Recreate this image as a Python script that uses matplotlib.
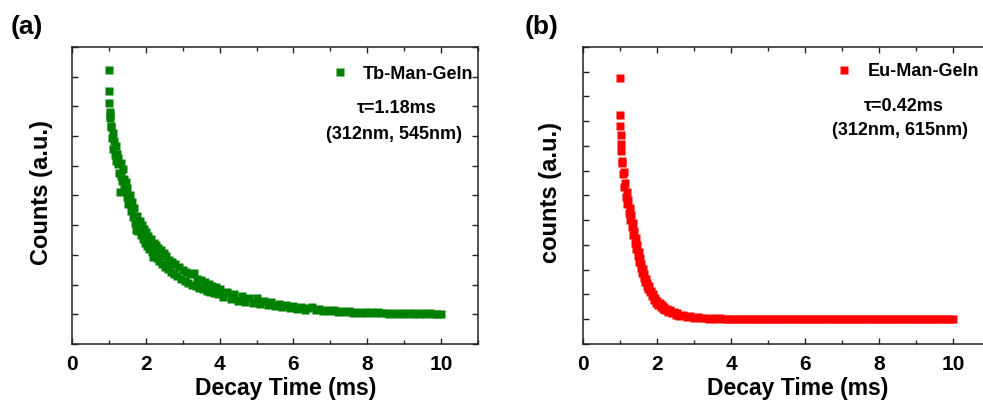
import matplotlib
matplotlib.use("Agg")
import matplotlib.pyplot as plt
from matplotlib.ticker import MultipleLocator, NullFormatter

plt.rcParams['font.family'] = ['Liberation Sans', 'DejaVu Sans']
plt.rcParams['font.weight'] = 'bold'

# ---- panel (a): Tb-Man-Geln, tau = 1.18 ms ----
t_tb = [1.00, 1.00, 1.01, 1.02, 1.03, 1.04, 1.05, 1.06, 1.08, 1.10,
        1.12, 1.14, 1.16, 1.18, 1.20, 1.22, 1.24, 1.26, 1.28, 1.30,
        1.32, 1.34, 1.36, 1.38, 1.40, 1.42, 1.44, 1.46, 1.48, 1.50,
        1.53, 1.56, 1.59, 1.62, 1.65, 1.68, 1.71, 1.74, 1.77, 1.80,
        1.83, 1.86, 1.89, 1.92, 1.95, 1.98, 2.01, 2.04, 2.07, 2.10,
        2.13, 2.16, 2.19, 2.22, 2.25, 2.28, 2.31, 2.34, 2.37, 2.40,
        2.44, 2.48, 2.52, 2.56, 2.60, 2.64, 2.68, 2.72, 2.76, 2.80,
        2.85, 2.90, 2.95, 3.00, 3.05, 3.10, 3.15, 3.20, 3.25, 3.30,
        3.35, 3.40, 3.45, 3.50, 3.55, 3.60, 3.65, 3.70, 3.75, 3.80,
        3.85, 3.90, 3.95, 4.00, 4.1, 4.2, 4.3, 4.4, 4.5, 4.6,
        4.7, 4.8, 4.9, 5.0, 5.1, 5.2, 5.3, 5.4, 5.5, 5.6,
        5.7, 5.8, 5.9, 6.0, 6.1, 6.2, 6.3, 6.4, 6.5, 6.6,
        6.7, 6.8, 6.9, 7.0, 7.1, 7.2, 7.3, 7.4, 7.5, 7.6,
        7.7, 7.8, 7.9, 8.0, 8.1, 8.2, 8.3, 8.4, 8.5, 8.6,
        8.7, 8.8, 8.9, 9.0, 9.1, 9.2, 9.3, 9.4, 9.5, 9.6,
        9.7, 9.8, 9.9, 10.0]
c_tb = [9.22, 8.52, 8.10, 7.82, 7.60, 7.72, 7.30, 7.35, 6.95, 7.10,
        6.55, 6.85, 6.35, 6.65, 6.15, 6.40, 6.05, 6.25, 5.75, 5.12,
        6.10, 5.65, 5.50, 5.90, 5.35, 5.55, 5.20, 5.45, 4.95, 5.25,
        4.72, 5.00, 4.48, 4.77, 4.27, 4.57, 4.07, 3.85, 4.30, 3.82,
        4.15, 3.67, 4.00, 3.53, 3.87, 3.41, 3.76, 3.30, 3.65, 3.20,
        3.55, 3.10, 2.92, 3.41, 2.96, 3.32, 2.88, 3.23, 2.79, 3.15,
        2.70, 3.05, 2.60, 2.95, 2.51, 2.84, 2.44, 2.76, 2.36, 2.68,
        2.28, 2.58, 2.20, 2.50, 2.13, 2.42, 2.06, 2.35, 2.00, 2.38,
        1.94, 2.20, 1.89, 2.14, 1.84, 2.08, 1.80, 2.01, 1.75, 1.96,
        1.71, 1.91, 1.67, 1.85, 1.57, 1.75, 1.52, 1.68, 1.46, 1.60,
        1.41, 1.54, 1.37, 1.56, 1.33, 1.45, 1.30, 1.40, 1.27, 1.36,
        1.24, 1.32, 1.21, 1.29, 1.18, 1.25, 1.16, 1.22, 1.26, 1.14,
        1.18, 1.12, 1.16, 1.10, 1.14, 1.08, 1.12, 1.07, 1.11, 1.06,
        1.09, 1.05, 1.08, 1.04, 1.08, 1.03, 1.07, 1.03, 1.06, 1.02,
        1.05, 1.02, 1.05, 1.01, 1.04, 1.01, 1.04, 1.00, 1.03, 1.00,
        1.03, 1.00, 1.02, 1.00]

# ---- panel (b): Eu-Man-Geln, tau = 0.42 ms ----
t_eu = [1.00, 1.00, 1.01, 1.02, 1.03, 1.04, 1.05, 1.06, 1.08, 1.10,
        1.12, 1.14, 1.16, 1.18, 1.20, 1.22, 1.24, 1.26, 1.28, 1.30,
        1.32, 1.34, 1.36, 1.38, 1.40, 1.42, 1.44, 1.46, 1.48, 1.50,
        1.52, 1.54, 1.56, 1.58, 1.60, 1.62, 1.64, 1.66, 1.68, 1.70,
        1.72, 1.74, 1.76, 1.78, 1.80, 1.83, 1.86, 1.89, 1.92, 1.95,
        1.98, 2.01, 2.04, 2.07, 2.10, 2.13, 2.16, 2.19, 2.22, 2.26,
        2.30, 2.35, 2.40, 2.45, 2.50, 2.55, 2.60, 2.70, 2.80, 2.90,
        3.00, 3.1, 3.2, 3.3, 3.4, 3.5, 3.6, 3.7, 3.8, 3.9,
        4.0, 4.1, 4.2, 4.3, 4.4, 4.5, 4.6, 4.7, 4.8, 4.9,
        5.0, 5.1, 5.2, 5.3, 5.4, 5.5, 5.6, 5.7, 5.8, 5.9,
        6.0, 6.1, 6.2, 6.3, 6.4, 6.5, 6.6, 6.7, 6.8, 6.9,
        7.0, 7.1, 7.2, 7.3, 7.4, 7.5, 7.6, 7.7, 7.8, 7.9,
        8.0, 8.1, 8.2, 8.3, 8.4, 8.5, 8.6, 8.7, 8.8, 8.9,
        9.0, 9.1, 9.2, 9.3, 9.4, 9.5, 9.6, 9.7, 9.8, 9.9,
        10.0]
c_eu = [10.74, 9.26, 8.82, 8.44, 8.08, 7.80, 7.40, 7.30, 6.85, 6.95,
        6.35, 6.50, 5.95, 6.15, 5.65, 5.80, 5.30, 5.50, 5.00, 5.20,
        4.72, 4.88, 4.40, 4.58, 4.10, 4.28, 3.82, 3.98, 3.55, 3.72,
        3.30, 3.48, 3.08, 3.25, 2.88, 3.02, 2.68, 2.82, 2.50, 2.64,
        2.35, 2.48, 2.22, 2.34, 2.10, 2.16, 1.92, 2.00, 1.78, 1.86,
        1.66, 1.75, 1.56, 1.65, 1.49, 1.56, 1.42, 1.50, 1.37, 1.43,
        1.30, 1.36, 1.24, 1.29, 1.19, 1.24, 1.15, 1.17, 1.10, 1.12,
        1.07, 1.09, 1.04, 1.07, 1.03, 1.05, 1.01, 1.04, 1.00, 1.03,
        0.99, 1.02, 0.99, 1.02, 0.99, 1.02, 0.99, 1.02, 0.99, 1.02,
        0.99, 1.02, 0.99, 1.02, 0.99, 1.02, 0.99, 1.02, 0.99, 1.02,
        0.99, 1.02, 0.99, 1.02, 0.99, 1.02, 0.99, 1.02, 0.99, 1.02,
        0.99, 1.02, 0.99, 1.02, 0.99, 1.02, 0.99, 1.02, 0.99, 1.02,
        0.99, 1.02, 0.99, 1.02, 0.99, 1.02, 0.99, 1.02, 0.99, 1.02,
        0.99, 1.02, 0.99, 1.02, 0.99, 1.02, 0.99, 1.02, 0.99, 1.02,
        0.99]

fig = plt.figure(figsize=(9.83, 4.03), dpi=100)
ax1 = fig.add_axes([0.0732, 0.1464, 0.4131, 0.737])
ax2 = fig.add_axes([0.5931, 0.1464, 0.4140, 0.737])


def style(ax, ymax):
    ax.set_xlim(0, 11)
    ax.set_ylim(0, ymax)
    ax.xaxis.set_major_locator(MultipleLocator(2))
    ax.xaxis.set_minor_locator(MultipleLocator(1))
    ax.yaxis.set_major_locator(MultipleLocator(1))
    ax.yaxis.set_major_formatter(NullFormatter())
    ax.tick_params(which='both', direction='in', top=True, right=True,
                   labelsize=15, width=1, color='#222222', pad=8)
    ax.tick_params(which='major', length=4)
    ax.tick_params(which='minor', length=3)
    for lab in ax.get_xticklabels():
        lab.set_fontweight('bold')
    for s in ax.spines.values():
        s.set_linewidth(1.1)
        s.set_color('#222222')
    ax.set_xlabel('Decay Time (ms)', fontsize=16.5, fontweight='bold')


ax1.plot(t_tb, c_tb, 's', color='#008000', ms=6, mec='none', label='Tb-Man-Geln')
style(ax1, 10)
ax1.set_ylabel('Counts (a.u.)', fontsize=17, fontweight='bold')
ax1.xaxis.set_label_coords(0.527, -0.112)
ax1.yaxis.set_label_coords(-0.047, 0.51)
ax1.legend(loc='center left', bbox_to_anchor=(0.637, 0.909), frameon=False,
           handlelength=1, handletextpad=0.8, borderpad=0, borderaxespad=0,
           prop={'size': 13, 'weight': 'bold'}, markerscale=0.9)
ax1.text(0.80, 0.793, 'τ=1.18ms', transform=ax1.transAxes, ha='center', va='center',
         fontsize=13, fontweight='bold')
ax1.text(0.794, 0.704, '(312nm, 545nm)', transform=ax1.transAxes, ha='center',
         va='center', fontsize=13, fontweight='bold')

ax2.plot(t_eu, c_eu, 's', color='#ff0000', ms=6, mec='none', label='Eu-Man-Geln')
style(ax2, 12)
ax2.set_ylabel('counts (a.u.)', fontsize=17, fontweight='bold')
ax2.xaxis.set_label_coords(0.527, -0.112)
ax2.yaxis.set_label_coords(-0.052, 0.51)
ax2.legend(loc='center left', bbox_to_anchor=(0.620, 0.916), frameon=False,
           handlelength=1, handletextpad=0.8, borderpad=0, borderaxespad=0,
           prop={'size': 13, 'weight': 'bold'}, markerscale=0.9)
ax2.text(0.787, 0.80, 'τ=0.42ms', transform=ax2.transAxes, ha='center', va='center',
         fontsize=13, fontweight='bold')
ax2.text(0.779, 0.719, '(312nm, 615nm)', transform=ax2.transAxes, ha='center',
         va='center', fontsize=13, fontweight='bold')

fig.text(27 / 983, 1 - 27 / 403, '(a)', fontsize=19, fontweight='bold',
         ha='center', va='center')
fig.text(542 / 983, 1 - 27 / 403, '(b)', fontsize=19, fontweight='bold',
         ha='center', va='center')

fig.savefig('out.png', dpi=100)
